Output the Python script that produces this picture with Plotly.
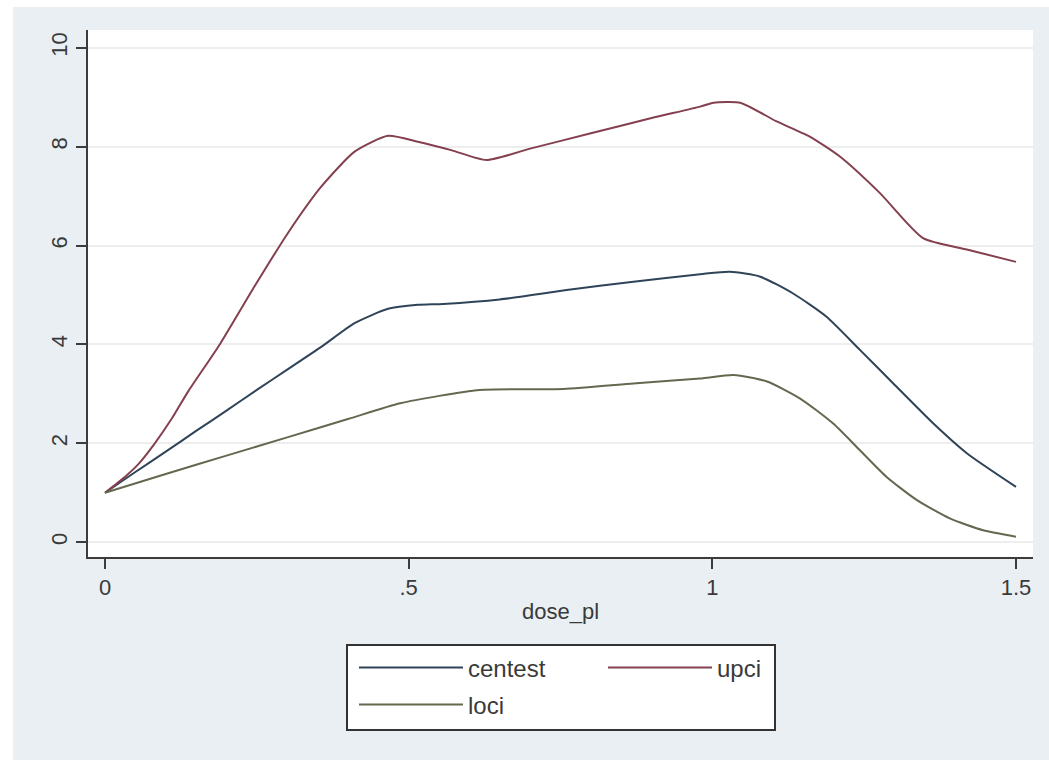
import plotly.graph_objects as go

# Dose-response curves: central estimate with upper / lower confidence limits
dose_centest = [0.0, 0.05, 0.10, 0.15, 0.20, 0.25, 0.30, 0.356, 0.411, 0.466, 0.515,
                0.557, 0.65, 0.76, 0.87, 0.98, 1.029, 1.079, 1.133, 1.188, 1.243,
                1.298, 1.364, 1.419, 1.50]
centest = [1.0, 1.42, 1.83, 2.25, 2.66, 3.08, 3.49, 3.95, 4.43, 4.72, 4.80,
           4.82, 4.91, 5.10, 5.27, 5.42, 5.47, 5.37, 5.03, 4.56, 3.89,
           3.21, 2.40, 1.80, 1.12]

dose_upci = [0.0, 0.027, 0.055, 0.082, 0.11, 0.137, 0.19, 0.246, 0.301, 0.356, 0.411,
             0.466, 0.515, 0.57, 0.628, 0.70, 0.80, 0.90, 0.98, 1.002, 1.046, 1.106,
             1.161, 1.21, 1.276, 1.347, 1.419, 1.50]
upci = [1.0, 1.26, 1.58, 2.0, 2.5, 3.05, 4.02, 5.17, 6.25, 7.19, 7.90,
        8.22, 8.10, 7.93, 7.73, 7.96, 8.27, 8.58, 8.81, 8.89, 8.89, 8.51,
        8.20, 7.80, 7.06, 6.15, 5.92, 5.67]

dose_loci = [0.0, 0.10, 0.20, 0.30, 0.40, 0.486, 0.617, 0.755, 0.87, 0.98,
             1.035, 1.09, 1.144, 1.199, 1.243, 1.287, 1.337, 1.391, 1.446, 1.50]
loci = [1.0, 1.38, 1.75, 2.12, 2.49, 2.81, 3.08, 3.10, 3.21, 3.31,
        3.38, 3.25, 2.91, 2.40, 1.86, 1.32, 0.85, 0.48, 0.24, 0.11]

x_ticks = [0, 0.5, 1, 1.5]
x_tick_labels = ["0", ".5", "1", "1.5"]
y_ticks = [0, 2, 4, 6, 8, 10]

C_CENT = "#2f4458"
C_UP = "#84404e"
C_LO = "#62694f"
TEXT = "#3a3a3a"
AXIS = "#3c3c3c"
REGION = "#e9eff2"
FONT = "Liberation Sans, Arial, sans-serif"

W, H = 1049, 762
L, R, T, B = 88, 16, 30, 205
PW, PH = W - L - R, H - T - B


def px_x(p):
    return (p - L) / PW


def px_y(p):
    return (H - B - p) / PH


fig = go.Figure()
fig.add_trace(go.Scatter(x=dose_centest, y=centest, mode="lines", name="centest",
                         line=dict(color=C_CENT, width=2, shape="spline", smoothing=0.6),
                         legend="legend"))
fig.add_trace(go.Scatter(x=dose_upci, y=upci, mode="lines", name="upci",
                         line=dict(color=C_UP, width=2, shape="spline", smoothing=0.6),
                         legend="legend"))
fig.add_trace(go.Scatter(x=dose_loci, y=loci, mode="lines", name="loci",
                         line=dict(color=C_LO, width=2, shape="spline", smoothing=0.6),
                         legend="legend2"))

legend_common = dict(orientation="h", xanchor="left", yanchor="middle",
                     bgcolor="rgba(0,0,0,0)", borderwidth=0,
                     font=dict(family=FONT, size=24, color=TEXT),
                     itemwidth=104, entrywidth=130, traceorder="normal")

fig.update_layout(
    width=W, height=H,
    margin=dict(l=L, r=R, t=T, b=B),
    paper_bgcolor=REGION,
    plot_bgcolor="#ffffff",
    font=dict(family=FONT, size=22, color=TEXT),
    xaxis=dict(range=[-0.028, 1.528], tickvals=x_ticks, ticktext=x_tick_labels,
               showgrid=False, zeroline=False, showline=True, linecolor=AXIS,
               linewidth=2, ticks="outside", ticklen=10, tickwidth=2,
               tickcolor=AXIS, tickfont=dict(size=22, color=TEXT),
               title=dict(text="dose_pl", font=dict(size=22, color=TEXT), standoff=4)),
    yaxis=dict(range=[-0.30, 10.36], tickvals=y_ticks, showgrid=True,
               gridcolor="#eeeeee", gridwidth=2, zeroline=False, showline=True,
               linecolor=AXIS, linewidth=2, ticks="outside", ticklen=10,
               tickwidth=2, tickcolor=AXIS, tickangle=-90,
               tickfont=dict(size=22, color=TEXT)),
    legend=dict(x=px_x(354), y=px_y(668), **legend_common),
    legend2=dict(x=px_x(354), y=px_y(705), **legend_common),
    showlegend=True,
)

# outer white border around the graph region
shapes = [
    dict(type="rect", xref="paper", yref="paper", x0=px_x(0), x1=px_x(13),
         y0=px_y(H), y1=px_y(0), fillcolor="#ffffff", line_width=0, layer="below"),
    dict(type="rect", xref="paper", yref="paper", x0=px_x(0), x1=px_x(W),
         y0=px_y(7), y1=px_y(0), fillcolor="#ffffff", line_width=0, layer="below"),
    dict(type="rect", xref="paper", yref="paper", x0=px_x(0), x1=px_x(W),
         y0=px_y(H), y1=px_y(760), fillcolor="#ffffff", line_width=0, layer="below"),
    # legend frame
    dict(type="rect", xref="paper", yref="paper", x0=px_x(347), x1=px_x(775),
         y0=px_y(730), y1=px_y(645), fillcolor="#ffffff",
         line=dict(color="#333333", width=2), layer="below"),
]
fig.update_layout(shapes=shapes)

fig.write_html("out.html")
